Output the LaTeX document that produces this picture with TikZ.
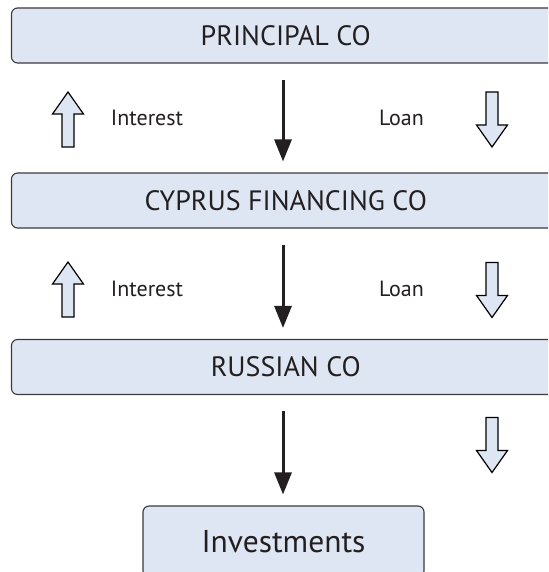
\documentclass[tikz,border=0pt]{standalone}
\usepackage{fontspec}
\setmainfont{PT Sans}
\usetikzlibrary{arrows.meta}
\definecolor{boxfill}{HTML}{DFE6F3}
\definecolor{boxline}{HTML}{3A3A3C}
\definecolor{ink}{HTML}{231F20}
\tikzset{
  entity/.style={draw=boxline, line width=1.1pt, fill=boxfill, rounded corners=6pt,
    inner sep=0pt, text=ink, font=\fontsize{28}{32}\selectfont},
  flowlabel/.style={anchor=base, inner sep=0pt, text=ink, font=\fontsize{22}{26}\selectfont},
  flow/.style={line width=3pt, draw=ink, shorten <=16pt, shorten >=11pt,
    -{Triangle[width=17pt,length=22pt]}},
  hollow/.style={draw=black, line width=1.2pt, fill=boxfill, line join=miter},
  uparrow/.pic={\draw[hollow] (0,-27.5) -- (15.5,-5.5) -- (6,-5.5) -- (6,27.5)
      -- (-6,27.5) -- (-6,-5.5) -- (-15.5,-5.5) -- cycle;},
  downarrow/.pic={\draw[hollow] (0,27.5) -- (15.5,5.5) -- (6,5.5) -- (6,-27.5)
      -- (-6,-27.5) -- (-6,5.5) -- (-15.5,5.5) -- cycle;}
}
\begin{document}
\begin{tikzpicture}[x=1pt,y=-1pt]
  \useasboundingbox (0,0) rectangle (548,572);
  \clip (0,0) rectangle (548,572);
  \fill[white] (0,0) rectangle (548,572);

  % company boxes
  \node[entity, minimum width=548.5pt, minimum height=55pt] (principal) at (285.75,35.5) {PRINCIPAL CO};
  \node[entity, minimum width=548.5pt, minimum height=55pt] (cyprus) at (285.75,200.5) {CYPRUS FINANCING CO};
  \node[entity, minimum width=548.5pt, minimum height=55pt] (russian) at (285.75,367) {RUSSIAN CO};
  \node[entity, minimum width=281pt, minimum height=71pt, font=\fontsize{31.5}{36}\selectfont] (invest) at (283.5,541.5) {Investments};

  % main flow of funds
  \coordinate (col) at (283,0);
  \draw[flow] (principal.south -| col) -- (cyprus.north -| col);
  \draw[flow] (cyprus.south -| col) -- (russian.north -| col);
  \draw[flow] (russian.south -| col) -- (invest.north -| col);

  % interest and loan labels
  \node[flowlabel] (int1) at (147,126) {Interest};
  \node[flowlabel] (loan1) at (401.5,126) {Loan};
  \node[flowlabel] (int2) at (147,296) {Interest};
  \node[flowlabel] (loan2) at (401.5,296) {Loan};

  % direction markers
  \pic at (68,119.5) {uparrow};
  \pic at (492,119.5) {downarrow};
  \pic at (68,289.5) {uparrow};
  \pic at (492,290) {downarrow};
  \pic at (492,445) {downarrow};
\end{tikzpicture}
\end{document}
